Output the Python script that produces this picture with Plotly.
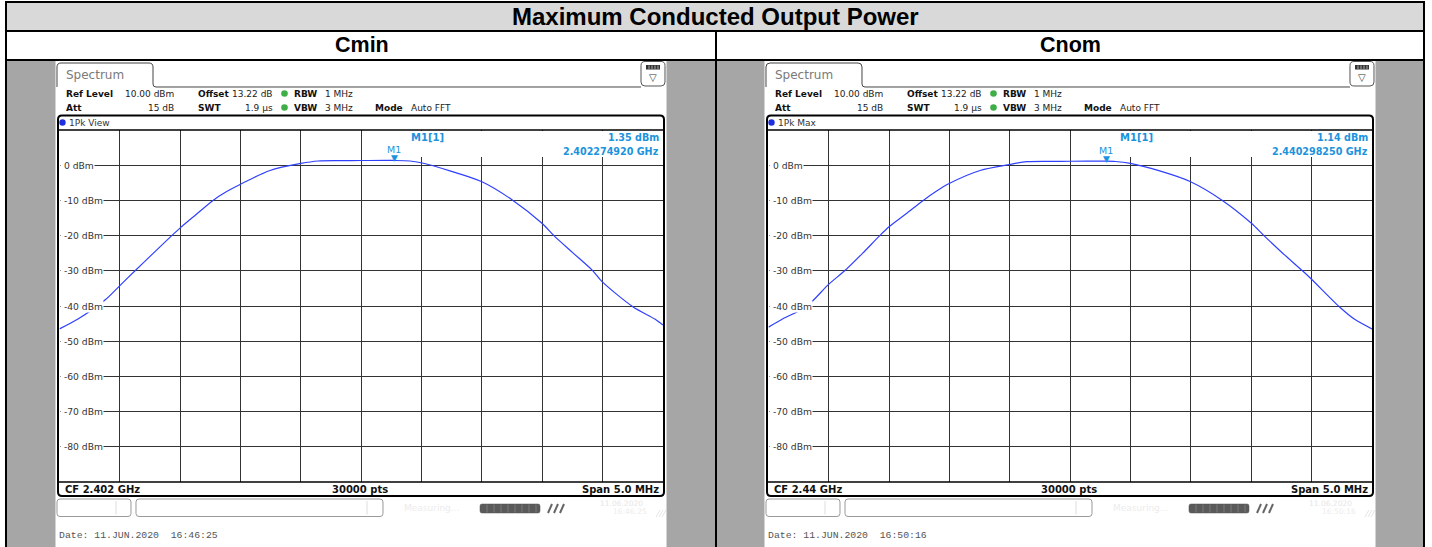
import plotly.graph_objects as go

W, H = 1432, 547

# ---------------- data ----------------
title_text = "Maximum Conducted Output Power"
panel_names = ["Cmin", "Cnom"]
center_freq_mhz = [2402.0, 2440.0]
cf_labels = ["CF 2.402 GHz", "CF 2.44 GHz"]
span_label = "Span 5.0 MHz"
points_label = "30000 pts"
span_mhz = 5.0
trace_modes = ["1Pk View", "1Pk Max"]
marker_name = "M1"
marker_freq_ghz = [2.402274920, 2.440298250]
marker_level_dbm = [1.35, 1.14]
dates = ["Date: 11.JUN.2020  16:46:25", "Date: 11.JUN.2020  16:50:16"]
ref_level_dbm = 10.0
bottom_level_dbm = -90.0
y_tick_values = [0, -10, -20, -30, -40, -50, -60, -70, -80]
y_tick_labels = ["0 dBm", "-10 dBm", "-20 dBm", "-30 dBm", "-40 dBm",
                 "-50 dBm", "-60 dBm", "-70 dBm", "-80 dBm"]
header_row1 = [("Ref Level", "10.00 dBm"), ("Offset", "13.22 dB"), ("RBW", "1 MHz")]
header_row2 = [("Att", "15 dB"), ("SWT", "1.9 µs"), ("VBW", "3 MHz"), ("Mode", "Auto FFT")]

cmin_offset_mhz = [-2.5, -2.347, -2.123, -2.0, -1.874, -1.75, -1.57, -1.5, -1.375, -1.228,
                   -1.115, -1.0, -0.756, -0.5, -0.358, -0.176, 0.0, 0.263, 0.404, 0.495,
                   0.735, 1.0, 1.257, 1.497, 1.596, 1.754, 1.919, 1.993, 2.25, 2.432, 2.5]
cmin_level_dbm = [-46.5, -43.7, -38.3, -34.2, -30.0, -25.9, -20.0, -17.8, -14.2, -10.0,
                  -7.5, -5.4, -1.5, 0.5, 1.2, 1.3, 1.33, 1.35, 1.2, 0.7,
                  -1.6, -4.7, -10.0, -16.5, -20.0, -24.9, -30.0, -33.0, -40.2, -43.7, -45.4]
cnom_offset_mhz = [-2.5, -2.384, -2.187, -2.0, -1.869, -1.72, -1.578, -1.501, -1.36, -1.218,
                   -1.11, -1.003, -0.747, -0.504, -0.36, -0.166, 0.0, 0.291, 0.374, 0.498,
                   0.748, 0.997, 1.26, 1.501, 1.605, 1.76, 1.924, 1.999, 2.229, 2.353, 2.5]
cnom_level_dbm = [-46.0, -43.7, -40.2, -33.8, -30.0, -25.0, -20.0, -17.5, -13.8, -10.0,
                  -7.4, -5.2, -1.5, 0.2, 1.0, 1.1, 1.12, 1.14, 1.05, 0.5,
                  -1.7, -4.7, -10.0, -16.5, -20.0, -25.0, -30.0, -32.4, -40.2, -43.7, -46.5]
offsets = [cmin_offset_mhz, cnom_offset_mhz]
levels = [cmin_level_dbm, cnom_level_dbm]

# ---------------- helpers ----------------
SCREEN = "DejaVu Sans"
TABLEF = "Liberation Sans"
MONO = "Liberation Mono"
BLUE_MK = "#1b93dd"


def X(p):
    return p / W


def Y(p):
    return 1 - p / H


def P(cmds):
    out = []
    for c in cmds:
        if c[0] == "Z":
            out.append("Z")
            continue
        vals = c[1:]
        pts = []
        for i in range(0, len(vals), 2):
            pts.append(f"{X(vals[i]):.6f},{Y(vals[i+1]):.6f}")
        out.append(c[0] + " " + " ".join(pts))
    return " ".join(out)


def rrect(x0, y0, x1, y1, r):
    return P([("M", x0 + r, y0), ("L", x1 - r, y0), ("Q", x1, y0, x1, y0 + r),
              ("L", x1, y1 - r), ("Q", x1, y1, x1 - r, y1), ("L", x0 + r, y1),
              ("Q", x0, y1, x0, y1 - r), ("L", x0, y0 + r), ("Q", x0, y0, x0 + r, y0), ("Z",)])


shapes = []
annots = []


def rect(x0, y0, x1, y1, fill, line=None, lw=0, layer="below"):
    shapes.append(dict(type="rect", xref="paper", yref="paper", x0=X(x0), x1=X(x1),
                       y0=Y(y1), y1=Y(y0), fillcolor=fill,
                       line=dict(color=line or fill, width=lw), layer=layer))


def line(x0, y0, x1, y1, color="black", lw=1, layer="above"):
    shapes.append(dict(type="line", xref="paper", yref="paper", x0=X(x0), x1=X(x1),
                       y0=Y(y0), y1=Y(y1), line=dict(color=color, width=lw), layer=layer))


def path(p, color="black", lw=1, fill=None, layer="above"):
    d = dict(type="path", xref="paper", yref="paper", path=p,
             line=dict(color=color, width=lw), layer=layer)
    if fill:
        d["fillcolor"] = fill
    shapes.append(d)


def circle(cx, cy, r, fill, layer="above"):
    shapes.append(dict(type="circle", xref="paper", yref="paper", x0=X(cx - r), x1=X(cx + r),
                       y0=Y(cy + r), y1=Y(cy - r), fillcolor=fill,
                       line=dict(color=fill, width=0), layer=layer))


def T(x, y, text, size=9, color="#222", anchor="left", family=SCREEN, yanchor="middle", **kw):
    d = dict(x=X(x), y=Y(y), xref="paper", yref="paper", text=text, showarrow=False,
             xanchor=anchor, yanchor=yanchor, font=dict(size=size, color=color, family=family))
    d.update(kw)
    annots.append(d)


# ---------------- table ----------------
rect(6, 2, 1424, 31, "#d9d9d9")
rect(6, 31, 1424, 60, "white")
rect(6, 60, 1424, 547, "#a6a6a6")
T(715, 16.5, f"<b>{title_text}</b>", size=24, color="black", anchor="center", family=TABLEF)
T(362, 45.5, f"<b>{panel_names[0]}</b>", size=21.5, color="black", anchor="center", family=TABLEF)
T(1070, 45.5, f"<b>{panel_names[1]}</b>", size=21.5, color="black", anchor="center", family=TABLEF)

fig = go.Figure()

PDX = [0, 709]
GX0, GX1, GY0, GY1 = 59.5, 663.0, 130.0, 482.0

for k in range(2):
    dx = PDX[k]
    xa = "x" if k == 0 else "x2"
    ya = "y" if k == 0 else "y2"
    # screenshot background
    rect(55.5 + dx, 60, 666.5 + dx, 547, "white")
    # tab
    path(P([("M", 57 + dx, 87), ("L", 57 + dx, 67), ("Q", 57 + dx, 63, 61 + dx, 63),
            ("L", 149 + dx, 63), ("Q", 153 + dx, 63, 153 + dx, 67), ("L", 153 + dx, 84),
            ("Q", 153 + dx, 87, 156 + dx, 87), ("L", 641 + dx, 87)]), color="#444", lw=1)
    T(64 + dx, 75, "Spectrum", size=12, color="#7a7a7a")
    # icon
    path(rrect(641 + dx, 61.5, 665 + dx, 86, 4), color="#555", lw=1, fill="white")
    rect(646 + dx, 65, 660 + dx, 69.5, "#333", layer="above")
    for sx in [649, 652, 655, 658]:
        line(sx + dx, 65.5, sx + dx, 69, color="#ccc", lw=0.8)
    T(653 + dx, 77.5, "▽", size=10, color="#333", anchor="center")
    # header rows
    for (lab, val), lx, vx, va in zip(header_row1, [64, 196, 292], [176, 275, 323],
                                      ["right", "right", "left"]):
        T(lx + dx, 93.5, f"<b>{lab}</b>", size=9, color="#111")
        T(vx + dx, 93.5, val, size=9, color="#222", anchor=va)
    for (lab, val), lx, vx, va in zip(header_row2, [64, 196, 292, 373], [176, 275, 323, 409],
                                      ["right", "right", "left", "left"]):
        T(lx + dx, 107.5, f"<b>{lab}</b>", size=9, color="#111")
        T(vx + dx, 107.5, val, size=9, color="#222", anchor=va)
    circle(284.5 + dx, 93.5, 3.3, "#3fae49")
    circle(284.5 + dx, 107.5, 3.3, "#3fae49")
    # frame
    path(rrect(58 + dx, 115.5, 664 + dx, 496, 4), color="black", lw=2)
    line(58 + dx, GY0, 664 + dx, GY0, color="black", lw=1.5)
    line(58 + dx, GY1, 664 + dx, GY1, color="black", lw=1.5)
    circle(62.5 + dx, 122.5, 3.2, "#1f2fe0")
    T(67 + dx, 122.5, trace_modes[k], size=9, color="#333")
    # marker info box (covers grid)
    rect(400 + dx, 131, 662.5 + dx, 157, "white", layer="above")
    T(409 + dx, 137.5, f"<b>{marker_name}[1]</b>", size=10, color=BLUE_MK)
    T(661 + dx, 137.5, f"<b>{marker_level_dbm[k]:.2f} dBm</b>", size=9.6, color=BLUE_MK, anchor="right")
    T(661 + dx, 151.5, f"<b>{marker_freq_ghz[k]:.9f} GHz</b>", size=9.6, color=BLUE_MK, anchor="right")
    # y tick labels (white background hides the grid line under the text)
    for v, lab in zip(y_tick_values, y_tick_labels):
        annots.append(dict(x=X(59.8 + dx), y=v, xref="paper", yref=ya, text="\u00a0" + lab,
                           showarrow=False, xanchor="left", yanchor="middle", bgcolor="white",
                           borderpad=0, font=dict(size=9.2, color="#333", family=SCREEN)))
    # marker
    mf = marker_freq_ghz[k] * 1000
    annots.append(dict(x=mf, y=marker_level_dbm[k], xref=xa, yref=ya, text="▼", showarrow=False,
                       xanchor="center", yanchor="bottom", yshift=-5,
                       font=dict(size=9, color=BLUE_MK, family=SCREEN)))
    annots.append(dict(x=mf, y=marker_level_dbm[k], xref=xa, yref=ya, text=marker_name,
                       showarrow=False, xanchor="center", yanchor="bottom", yshift=3,
                       font=dict(size=9.5, color=BLUE_MK, family=SCREEN)))
    # CF bar
    T(63 + dx, 489, f"<b>{cf_labels[k]}</b>", size=10, color="#111")
    T(360 + dx, 489, f"<b>{points_label}</b>", size=10, color="#111", anchor="center")
    T(661 + dx, 489, f"<b>{span_label}</b>", size=10, color="#111", anchor="right")
    # status row
    path(rrect(57 + dx, 499, 131 + dx, 516.5, 3), color="#999", lw=1, fill="white")
    line(116 + dx, 501, 116 + dx, 514.5, color="#ddd", lw=1)
    path(rrect(136 + dx, 499, 383 + dx, 516.5, 3), color="#999", lw=1, fill="white")
    line(367 + dx, 501, 367 + dx, 514.5, color="#ddd", lw=1)
    T(402 + dx, 508, "Measuring...", size=9, color="#ececec")
    path(rrect(480 + dx, 504, 540 + dx, 513, 2), color="#555", lw=0.5, fill="#5a5a5a")
    for sx in range(487, 537, 7):
        line(sx + dx, 504.5, sx + dx, 512.5, color="#8a8a8a", lw=0.7)
    for sx in [548, 554, 560]:
        line(sx + dx, 513, sx + 4 + dx, 504, color="#666", lw=2)
    T(621 + dx, 503, "11.06.2020", size=7.5, color="#e6e6e6", anchor="center")
    T(630 + dx, 511.5, dates[k][-8:], size=7.5, color="#ececec", anchor="center")
    for sx in [656, 659, 662]:
        line(sx + dx, 517, sx + 4 + dx, 510, color="#d8d8d8", lw=0.7)
    T(57 + dx, 535.5, dates[k].replace("  ", " \u00a0"), size=9.8, color="#555", family=MONO)

    # trace
    freqs = [center_freq_mhz[k] + o for o in offsets[k]]
    fig.add_trace(go.Scatter(x=freqs, y=levels[k], mode="lines", xaxis=xa, yaxis=ya,
                             line=dict(color="#2f40ff", width=1.2, shape="spline", smoothing=0.8),
                             hoverinfo="skip", showlegend=False))

# table borders
line(6, 2, 1424, 2, lw=2)
line(6, 31, 1424, 31, lw=2)
line(6, 60, 1424, 60, lw=2)
line(6, 1, 6, 547, lw=2)
line(1424, 1, 1424, 547, lw=2)
line(716, 31, 716, 547, lw=2)

axis_common = dict(showgrid=True, gridcolor="#333333", gridwidth=1, showticklabels=False,
                   zeroline=False, showline=False, ticks="", fixedrange=True)
layout_axes = {}
for k in range(2):
    dx = PDX[k]
    sfx = "" if k == 0 else "2"
    cf = center_freq_mhz[k]
    layout_axes["xaxis" + sfx] = dict(domain=[X(GX0 + dx), X(GX1 + dx)],
                                      range=[cf - span_mhz / 2, cf + span_mhz / 2],
                                      tick0=cf - span_mhz / 2, dtick=span_mhz / 10,
                                      anchor="y" + sfx, **axis_common)
    layout_axes["yaxis" + sfx] = dict(domain=[Y(GY1), Y(GY0)],
                                      range=[bottom_level_dbm, ref_level_dbm],
                                      tick0=0, dtick=10, anchor="x" + sfx, **axis_common)

fig.update_layout(width=W, height=H, margin=dict(l=0, r=0, t=0, b=0),
                  paper_bgcolor="white", plot_bgcolor="rgba(0,0,0,0)",
                  shapes=shapes, annotations=annots, hovermode=False, showlegend=False,
                  **layout_axes)
fig.write_html("out.html", config={"displayModeBar": False},
               post_script="document.body.style.margin='0';document.body.style.padding='0';"
                           "document.body.style.overflow='hidden';")
